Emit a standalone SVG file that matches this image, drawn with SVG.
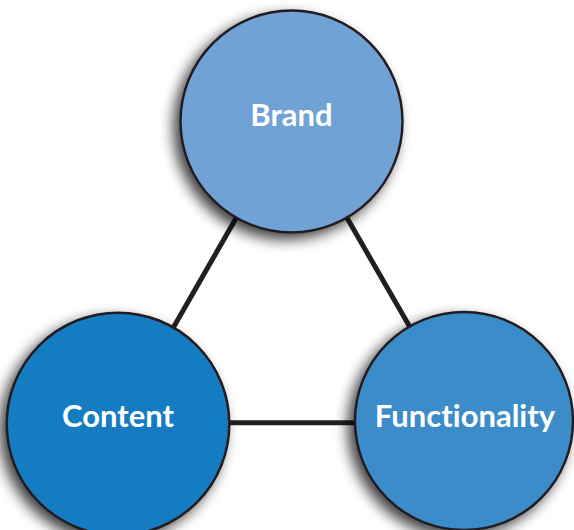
<svg xmlns="http://www.w3.org/2000/svg" width="574" height="530" viewBox="0 0 574 530">
  <defs>
    <filter id="shadow" x="-30%" y="-30%" width="160%" height="160%">
      <feGaussianBlur in="SourceAlpha" stdDeviation="7"/>
      <feOffset dx="-6" dy="6" result="b"/>
      <feComponentTransfer><feFuncA type="linear" slope="0.75"/></feComponentTransfer>
      <feMerge><feMergeNode/><feMergeNode in="SourceGraphic"/></feMerge>
    </filter>
    <style>
      .node circle { stroke: #231f20; stroke-width: 2.5; filter: url(#shadow); }
      .node text { font-family: Lato, "Open Sans", "Liberation Sans", sans-serif; font-weight: bold; font-size: 31px; fill: #ffffff; text-anchor: middle; font-variant-ligatures: none; font-feature-settings: "liga" 0, "clig" 0; }
      .edge { stroke: #231f20; stroke-width: 5; fill: none; }
    </style>
  </defs>
  <g id="connectors">
    <line class="edge" x1="291.5" y1="121.5" x2="118" y2="424"/>
    <line class="edge" x1="291.5" y1="121.5" x2="464" y2="421"/>
    <line class="edge" x1="118" y1="422.7" x2="464" y2="422.7"/>
  </g>
  <g id="brand" class="node">
    <circle cx="291.5" cy="121.5" r="111" fill="#70a2d5"/>
    <text x="291.5" y="125.5">Brand</text>
  </g>
  <g id="content" class="node">
    <circle cx="118" cy="424" r="111.3" fill="#127bc1"/>
    <text x="118" y="427">Content</text>
  </g>
  <g id="functionality" class="node">
    <circle cx="464" cy="421" r="109" fill="#3e8cca"/>
    <text x="465" y="426.5">Functionality</text>
  </g>
</svg>
